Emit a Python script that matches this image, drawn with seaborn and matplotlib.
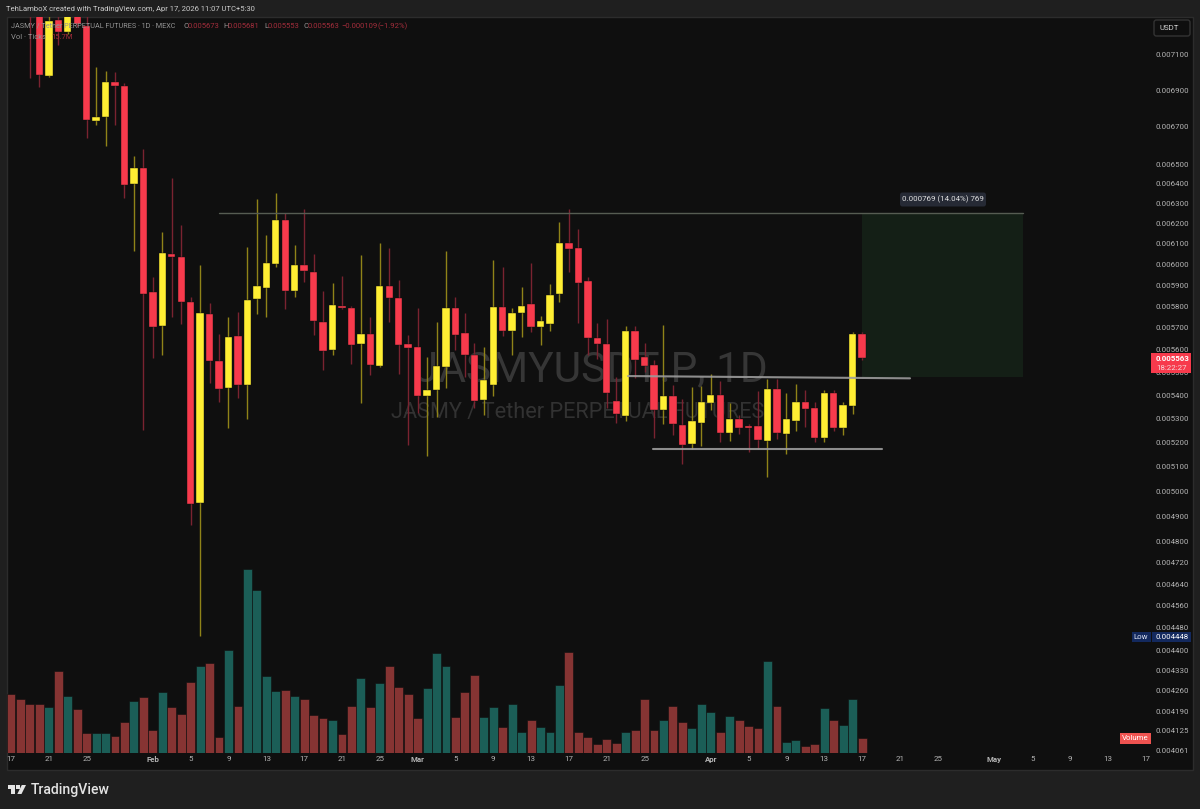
import matplotlib
matplotlib.use("Agg")
import matplotlib.pyplot as plt
import numpy as np
import pandas as pd
import seaborn as sns
from matplotlib.patches import Rectangle, Polygon, FancyBboxPatch
from matplotlib.ticker import FixedLocator, FixedFormatter, NullLocator

# prices are in millionths of a USDT, daily candles from 17 Jan 2026
opens = [7680, 7540, 7400, 7340, 6978, 7300, 7229, 7380, 7264, 6731, 6752, 6945, 6923, 6398, 6481, 5868,
         5709, 6049, 6035, 5820, 4952, 5765, 5551, 5432, 5663, 5445, 5835, 5886, 6001, 6216, 5872, 5996,
         5962, 5728, 5600, 5802, 5792, 5627, 5673, 5529, 5895, 5839, 5627, 5614, 5397, 5423, 5524, 5792,
         5677, 5578, 5380, 5445, 5797, 5686, 5769, 5811, 5705, 5719, 5858, 6103, 6078, 5919, 5654, 5627,
         5376, 5311, 5686, 5569, 5533, 5337, 5397, 5273, 5193, 5281, 5367, 5401, 5239, 5298, 5269, 5269,
         5206, 5427, 5235, 5290, 5371, 5345, 5218, 5410, 5260, 5354, 5673]
highs = [7760, 7600, 7460, 7400, 7360, 7340, 7410, 7420, 7350, 7029, 7006, 7000, 6940, 6544, 6581, 5938,
         6157, 6429, 6191, 5844, 5996, 5816, 5673, 5751, 5774, 6083, 6322, 6142, 6353, 6251, 6093, 6271,
         6049, 5872, 5910, 5943, 5802, 6044, 5751, 6103, 6078, 5924, 5668, 5792, 5569, 5728, 6063, 5844,
         5769, 5632, 5614, 6020, 5986, 5792, 5891, 6006, 5755, 5905, 6206, 6271, 6172, 5938, 5723, 5742,
         5480, 5709, 5709, 5632, 5555, 5714, 5445, 5384, 5436, 5441, 5493, 5463, 5367, 5315, 5277, 5419,
         5471, 5471, 5410, 5449, 5423, 5371, 5423, 5423, 5371, 5682, 5681]
lows = [7520, 7360, 6967, 6917, 6973, 7154, 7215, 7260, 6640, 6709, 6597, 6709, 6327, 6063, 5252, 5564,
        5578, 5751, 5719, 4866, 4450, 5454, 5371, 5260, 5388, 5298, 5765, 5751, 5986, 5788, 5844, 5915,
        5668, 5511, 5578, 5788, 5537, 5367, 5489, 5524, 5728, 5493, 5189, 5324, 5143, 5307, 5432, 5600,
        5480, 5345, 5315, 5397, 5663, 5578, 5659, 5682, 5623, 5686, 5820, 5962, 5723, 5578, 5560, 5345,
        5281, 5290, 5476, 5502, 5218, 5277, 5231, 5111, 5172, 5185, 5337, 5202, 5206, 5235, 5160, 5172,
        5057, 5214, 5152, 5248, 5264, 5202, 5202, 5248, 5231, 5320, 5553]
closes = [7540, 7400, 7340, 6984, 7294, 7229, 7380, 7276, 6736, 6752, 6945, 6923, 6393, 6481, 5858, 5705,
          6054, 6035, 5820, 4948, 5769, 5551, 5427, 5659, 5445, 5830, 5895, 6006, 6216, 5872, 5996, 5967,
          5732, 5596, 5806, 5792, 5623, 5673, 5533, 5895, 5839, 5623, 5609, 5397, 5423, 5529, 5792, 5668,
          5578, 5376, 5467, 5797, 5686, 5769, 5802, 5705, 5732, 5853, 6103, 6073, 5910, 5654, 5627, 5410,
          5320, 5686, 5555, 5529, 5337, 5397, 5277, 5189, 5290, 5371, 5401, 5239, 5298, 5260, 5260, 5210,
          5427, 5239, 5298, 5371, 5341, 5218, 5410, 5260, 5358, 5673, 5563]
# volume in millions of ticks
volumes = [60.5, 55.7, 50.3, 50.6, 47.5, 84.5, 58.8, 45.5, 20.5, 20.9, 20.9, 18.1, 31.8, 54, 57.8, 23.6,
           62.6, 47.5, 40.4, 73.5, 89.6, 93, 17.1, 106, 48.2, 188.8, 167.2, 79.3, 64, 65, 58.8, 55.7,
           39, 36.6, 33.9, 19.5, 48.9, 77, 47.5, 72.2, 89.3, 67.7, 61.2, 35.9, 67, 102.6, 89.6, 37.3,
           63.3, 80, 37.3, 47.5, 27.4, 50.6, 22.2, 34.2, 26.7, 22.2, 69.8, 104, 21.5, 16.4, 9.2, 15,
           10.6, 21.5, 24.3, 55.4, 24.3, 34.2, 48.2, 32.1, 26, 50.6, 42.4, 21.5, 38.3, 34.5, 28, 26,
           94.4, 48.9, 11.3, 13.3, 7.9, 9.9, 46.9, 34.2, 28.7, 55.4, 15.7]

price_ticks = [7100, 6900, 6700, 6500, 6400, 6300, 6200, 6100, 6000, 5900, 5800, 5700, 5600, 5500, 5400,
               5300, 5200, 5100, 5000, 4900, 4800, 4720, 4640, 4560, 4480, 4400, 4330, 4260, 4190, 4125, 4061]
date_ticks = ["2026-01-17", "2026-01-21", "2026-01-25", "2026-02-01", "2026-02-05", "2026-02-09",
              "2026-02-13", "2026-02-17", "2026-02-21", "2026-02-25", "2026-03-01", "2026-03-05",
              "2026-03-09", "2026-03-13", "2026-03-17", "2026-03-21", "2026-03-25", "2026-04-01",
              "2026-04-05", "2026-04-09", "2026-04-13", "2026-04-17", "2026-04-21", "2026-04-25",
              "2026-05-01", "2026-05-05", "2026-05-09", "2026-05-13", "2026-05-17"]
date_labels = ["17", "21", "25", "Feb", "5", "9", "13", "17", "21", "25", "Mar", "5", "9", "13", "17", "21",
               "25", "Apr", "5", "9", "13", "17", "21", "25", "May", "5", "9", "13", "17"]

# drawings on the chart: (start day, start price, end day, end price)
resistance = (22, 6250, 107, 6250)
breakout = (65.25, 5484, 95.07, 5474)
support = (67.9, 5171, 92.1, 5171)
target_box = (90, 107, 5480, 6249)

BG = "#1f1f1f"
PANEL = "#0f0f0f"
YELLOW = "#ffee33"
RED = "#f73a4c"
WICK_YELLOW = "#8f8318"
WICK_RED = "#7a2330"
TEXT = "#b4b4b4"
W, H = 1200, 809

sns.set_theme(style="dark", rc={"axes.grid": False})
plt.rcParams["font.family"] = ["Roboto", "DejaVu Sans"]


def fx(x):
    return x / W


def fy(y):
    return 1 - y / H


def put(x, y, s, size=5.7, color=TEXT, ha="left", weight="normal", z=7):
    return fig.text(fx(x), fy(y), s, fontsize=size, color=color, ha=ha, va="center", fontweight=weight, zorder=z)


def tag(x0, y0, x1, y1, color):
    fig.add_artist(Rectangle((fx(x0), fy(y1)), (x1 - x0) / W, (y1 - y0) / H, transform=fig.transFigure,
                             facecolor=color, edgecolor="none", zorder=6))


fig = plt.figure(figsize=(W / 100, H / 100), dpi=100, facecolor=BG)

# dark panel holding the chart and both scales
fig.add_artist(Rectangle((fx(7), fy(770)), 1186 / W, 753 / H, transform=fig.transFigure,
                         facecolor=PANEL, edgecolor="#2c2c2c", linewidth=1, zorder=-3))

# watermark sits under the candles
put(591, 370, "JASMYUSDT.P, 1D", size=30.5, color="#363636", ha="center", z=-2)
put(578, 413, "JASMY / Tether PERPETUAL FUTURES", size=15.7, color="#323232", ha="center", z=-2)

rect = [fx(7), fy(753.3), 1143 / W, 736.3 / H]
ax = fig.add_axes(rect)
ax_vol = ax.twinx()
ax.set_zorder(ax_vol.get_zorder() + 1)
ax.patch.set_visible(False)
ax_vol.patch.set_visible(False)

days = pd.date_range("2026-01-17", periods=len(opens), freq="D")
day_no = np.arange(len(days))
o = np.array(opens, dtype=float)
h = np.array(highs, dtype=float)
l = np.array(lows, dtype=float)
c = np.array(closes, dtype=float)
up = c >= o

df = pd.DataFrame({"day": day_no, "volume": volumes, "side": np.where(up, "up", "down")})
sns.barplot(data=df, x="day", y="volume", hue="side", hue_order=["up", "down"],
            palette={"up": "#1b5e57", "down": "#863433"}, native_scale=True, dodge=False,
            width=0.94, saturation=1, edgecolor="#0f0f0f", linewidth=0.4, legend=False, ax=ax_vol)
ax_vol.set_ylim(0, 755.5)
ax_vol.set_xlabel("")
ax_vol.set_ylabel("")
ax_vol.set_yticks([])

# candles
ax.set_yscale("log")
ax.vlines(day_no, l, h, colors=np.where(up, WICK_YELLOW, WICK_RED), linewidth=1.0, zorder=2)
ax.bar(day_no, np.abs(c - o), bottom=np.minimum(o, c), width=0.78, color=np.where(up, YELLOW, RED),
       edgecolor="#0f0f0f", linewidth=0.3, zorder=3)

# position box and lines
ax.fill_between(target_box[:2], target_box[2], target_box[3], color="#141f16", linewidth=0, zorder=1)
ax.plot(resistance[::2], resistance[1::2], color="#565c52", linewidth=1, zorder=4)
ax.plot(breakout[::2], breakout[1::2], color="#9c9c9c", linewidth=1.5, alpha=0.9, zorder=4)
ax.plot(support[::2], support[1::2], color="#9c9c9c", linewidth=1.5, alpha=0.9, zorder=4)

ax.set_ylim(4050.6, 7317)
ax.set_xlim(-0.423, 120.45)
ax.yaxis.tick_right()
ax.yaxis.set_major_locator(FixedLocator(price_ticks))
ax.yaxis.set_major_formatter(FixedFormatter([f"{t / 1e6:.6f}" for t in price_ticks]))
ax.yaxis.set_minor_locator(NullLocator())
ax.tick_params(axis="y", which="major", length=0, pad=4.3, labelsize=5.7, labelcolor=TEXT, right=False, labelright=True)
tick_pos = [(pd.Timestamp(d) - days[0]).days for d in date_ticks]
ax.set_xticks(tick_pos)
ax.set_xticklabels(date_labels)
ax.tick_params(axis="x", length=0, pad=2.2, labelsize=5.7, labelcolor=TEXT, bottom=False)
ax_vol.tick_params(axis="both", length=0, labelbottom=False)
for lab in ax.get_xticklabels():
    if lab.get_text() in ("Feb", "Mar", "Apr", "May"):
        lab.set_fontweight("bold")
for a in (ax, ax_vol):
    for s in a.spines.values():
        s.set_visible(False)

# header and legend
put(6, 9, "TehLamboX created with TradingView.com, Apr 17, 2026 11:07 UTC+5:30", size=5.5, color="#cccccc")
put(11, 26, "JASMY / Tether PERPETUAL FUTURES · 1D · MEXC", size=5.25, color="#949494")
LEG_RED = "#a32d3b"
for x, s, col in [(183, "O", "#949494"), (188, "0.005673", LEG_RED), (223, "H", "#949494"), (228, "0.005681", LEG_RED),
                  (264, "L", "#949494"), (268, "0.005553", LEG_RED), (303, "C", "#949494"), (308, "0.005563", LEG_RED),
                  (341, "−0.000109", LEG_RED), (377, "(−1.92%)", LEG_RED)]:
    put(x, 26, s, size=5.5, color=col)
put(11, 37, "Vol · Ticks", size=5.5, color="#949494")
put(51, 37, "15.7M", size=5.5, color=LEG_RED)

# price scale tags
fig.add_artist(FancyBboxPatch((fx(1154), fy(36)), 36 / W, 16 / H, boxstyle="round,pad=0,rounding_size=0.002",
                              mutation_aspect=W / H, transform=fig.transFigure,
                              facecolor=PANEL, edgecolor="#333333", linewidth=1, zorder=6))
put(1159, 28, "USDT", size=5.7, color="#cfcfcf")
tag(1151, 353, 1191, 373, RED)
put(1156, 358.5, "0.005563", size=5.7, color="white", weight="bold")
put(1156, 368, "18:22:27", size=5.7, color="#f6d5d8")
tag(1132, 632, 1191, 642, "#13295e")
tag(1151, 632, 1152, 642, PANEL)
put(1141, 637, "Low", size=5.7, color="#dfe5f5", ha="center")
put(1156, 637, "0.004448", size=5.7, color="white")
tag(1120, 733, 1151, 744, "#ef5350")
put(1135.5, 738.5, "Volume", size=5.7, color="white", ha="center")
fig.add_artist(FancyBboxPatch((fx(900), fy(206.5)), 86 / W, 14 / H, boxstyle="round,pad=0,rounding_size=0.002",
                              mutation_aspect=W / H, transform=fig.transFigure,
                              facecolor="#262a35", edgecolor="none", zorder=6))
put(942.5, 199.5, "0.000769 (14.04%) 769", size=5.7, color="#e0e0e0", ha="center")

# footer logo
logo = "#e4e4e4"
fig.add_artist(Polygon([(fx(7.5), fy(785)), (fx(15), fy(785)), (fx(15), fy(794)), (fx(11), fy(794)),
                        (fx(11), fy(788.5)), (fx(7.5), fy(788.5))], closed=True, transform=fig.transFigure,
                       facecolor=logo, edgecolor="none"))
fig.add_artist(Polygon([(fx(21.8), fy(785)), (fx(26), fy(785)), (fx(21.5), fy(794)), (fx(17.3), fy(794))],
                       closed=True, transform=fig.transFigure, facecolor=logo, edgecolor="none"))
fig.add_artist(Rectangle((fx(16), fy(788.8)), 3.6 / W, 3.6 / H, transform=fig.transFigure,
                         facecolor=logo, edgecolor="none"))
put(31, 790, "TradingView", size=10.1, color=logo, weight="medium")

fig.savefig("out.png", dpi=100, facecolor=BG)
